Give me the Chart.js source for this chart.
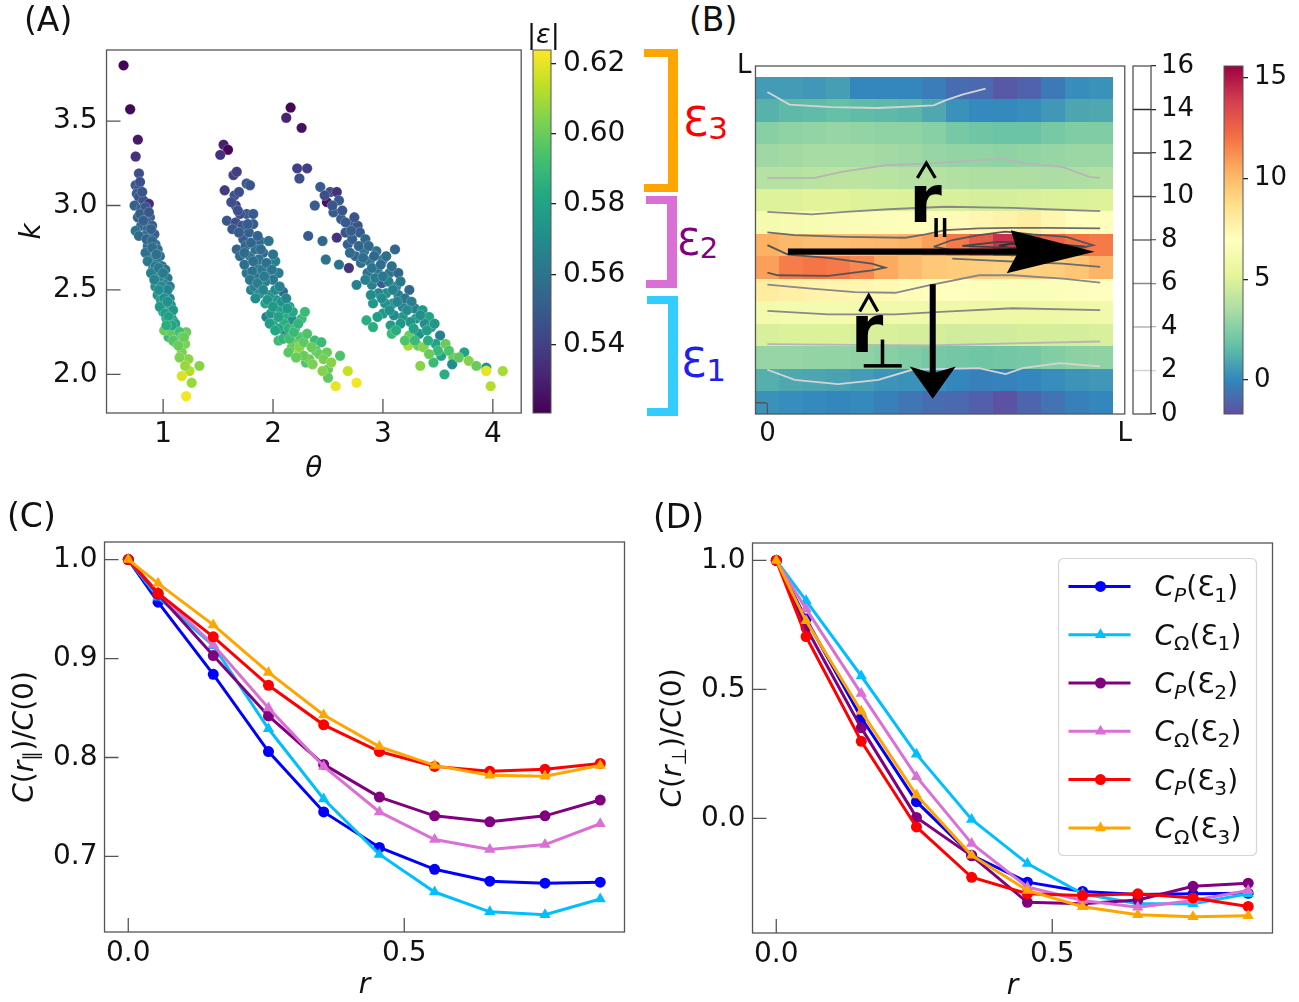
<!DOCTYPE html>
<html>
<head>
<meta charset="utf-8">
<script src="https://cdn.jsdelivr.net/npm/chart.js@4.4.1/dist/chart.umd.min.js"></script>
<style>
body { margin: 0; background: #fff; }
#fig { position: relative; width: 1299px; height: 1002px; overflow: hidden; font-family: "DejaVu Sans"; color: #111; }
canvas { position: absolute; }
.lbl { position: absolute; line-height: 1; white-space: nowrap; }
.br { position: absolute; box-sizing: border-box; border-left: none !important; }
</style>
</head>
<body>
<div id="fig">
  <canvas id="cA"></canvas>
  <canvas id="cAbar"></canvas>
  <canvas id="cB"></canvas>
  <canvas id="cBlev"></canvas>
  <canvas id="cBbar"></canvas>
  <canvas id="cC"></canvas>
  <canvas id="cD"></canvas>

  <div class="lbl" style="left:24px;top:3px;font-size:33px">(A)</div>
  <div class="lbl" style="left:689px;top:3px;font-size:33px">(B)</div>
  <div class="lbl" style="left:7px;top:499px;font-size:33px">(C)</div>
  <div class="lbl" style="left:653px;top:500px;font-size:33px">(D)</div>
  <div class="lbl" style="left:527px;top:20px;font-size:27px">|<i>ε</i>|</div>

  <div class="br" style="left:644px;top:49px;width:34px;height:143px;border:8px solid #ffa500;border-right-width:10px;"></div>
  <div class="br" style="left:646px;top:196px;width:31px;height:92px;border:8px solid #da70d6;border-right-width:10px;"></div>
  <div class="br" style="left:647px;top:296px;width:31px;height:120px;border:8px solid #33ccff;border-right-width:10px;"></div>
  <div class="lbl" style="left:683px;top:102px;color:#ff0000;font-size:41px">Ɛ<span style="font-size:31px;position:relative;top:3px">3</span></div>
  <div class="lbl" style="left:677px;top:224px;color:#800080;font-size:37px">Ɛ<span style="font-size:29px;position:relative;top:3px">2</span></div>
  <div class="lbl" style="left:681px;top:343px;color:#2020ee;font-size:41px">Ɛ<span style="font-size:31px;position:relative;top:4px">1</span></div>
</div>

<script>
Chart.defaults.font.family = '"DejaVu Sans"';
Chart.defaults.color = '#111';
Chart.defaults.animation = false;

// ---- panel A: scatter (theta, k) coloured by |eps|
const thetaVals = [
  0.64,0.70,0.77,0.75,0.78,0.75,0.78,0.76,0.78,0.82, 0.74,0.87,0.80,0.83,0.77,0.88,0.85,0.80,0.90,0.86,
  0.75,0.83,0.92,0.87,0.86,0.93,0.95,0.89,0.92,0.97, 0.88,0.95,0.99,0.91,0.97,1.02,0.94,1.00,1.04,0.97,
  1.02,0.93,1.06,0.99,0.95,1.03,0.98,1.06,1.01,1.07, 1.04,1.00,1.07,1.03,1.09,1.06,1.10,1.07,1.12,1.05,
  1.13,1.01,1.08,1.21,1.11,1.20,1.17,1.23,1.33,1.24, 1.17,1.26,1.21,
  0.79,0.81,0.84,0.79,0.87,0.82,0.89,0.78,0.85,0.90, 0.84,0.90,0.94,0.86,0.93,0.89,0.96,1.00,0.92,0.98,
  1.04,0.96,1.01,0.97,1.04,1.09,1.02,1.05,1.11,1.08, 1.03,1.15,1.17,1.09,1.14,1.19,1.15,1.20,
  1.55,1.59,1.52,1.64,1.67,1.76,1.56,1.65,1.66,1.69, 1.79,1.58,1.66,1.76,1.82,1.82,1.70,1.73,1.67,1.79,
  1.76,1.80,1.85,1.88,1.85,1.91,1.96,1.83,1.96,2.02, 2.05,2.09,1.93,2.00,2.03,2.15,2.12,2.00,1.94,2.18,
  2.26,2.29,2.18,2.05,2.11,2.21,2.17,2.24,2.24,2.30, 2.33,2.38,2.39,2.44,2.42,2.49,2.61,2.50,2.50,2.68,
  2.57,2.76,1.72,1.78,1.70,1.75,1.84,1.87,1.90,1.93, 1.88,1.97,2.02,2.07,2.10,2.05,2.14,2.20,2.25,1.98,
  2.08,2.12,1.74,1.81,1.94,
  1.62,1.68,1.63,1.69,1.77,1.74,1.80,1.86,1.82,1.89, 1.79,1.86,1.92,1.99,2.00,1.84,1.91,1.95,2.06,2.00,
  2.05,2.13,2.09,2.15,2.19,2.23,2.28,2.31,2.35,2.28, 2.36,2.46,2.53,2.45,2.14,2.21,1.97,2.02,
  2.16,2.12,2.26,2.22,2.31,2.24,2.43,2.52,2.58,2.49, 2.38,2.60,2.55,2.32,2.45,2.48,2.58,2.70,2.77,2.79,
  2.68,2.75,2.69,2.60,2.83,2.94,3.11,2.76,2.86,2.90, 2.99,3.06,3.12,3.24,3.03,2.91,2.85,2.91,3.00,3.09,
  3.18,3.29,3.18,3.36,3.42,3.07,3.08,3.24,3.33,3.52, 3.23,3.32,3.37,3.48,3.57,3.53,3.64,3.63,3.74,3.78,
  3.46,3.34,3.56,3.94,3.94,4.09,3.98,2.62,2.66,2.72, 2.84,2.80,2.88,2.95,2.96,3.00,3.05,3.14,3.10,3.20,
  3.26,3.30,3.38,3.44,3.14,2.92,2.84,3.02,2.70,
  2.47,2.54,2.63,2.66,2.74,2.71,2.78,2.87,2.82,2.90, 2.98,3.03,2.93,3.00,3.08,3.09,3.16,2.99,3.06,3.13,
  3.22,3.16,3.25,3.34,3.40,3.47,3.28,3.12,3.20,3.29, 3.41,3.50,3.42,3.60,3.69,3.85,2.95,2.89
];
const kVals = [
  3.83,3.57,3.39,3.29,3.19,3.12,3.10,3.07,3.05,3.03, 3.00,3.01,2.98,2.95,2.93,2.93,2.90,2.88,2.88,2.86,
  2.85,2.82,2.83,2.78,2.76,2.77,2.74,2.73,2.70,2.70, 2.68,2.66,2.64,2.63,2.61,2.62,2.58,2.57,2.57,2.55,
  2.53,2.52,2.52,2.50,2.47,2.47,2.44,2.45,2.41,2.41, 2.38,2.37,2.35,2.33,2.32,2.30,2.28,2.26,2.22,2.22,
  2.26,2.26,2.25,2.25,2.19,2.18,2.13,2.09,2.05,2.02, 1.99,1.95,1.87,
  3.14,3.08,2.99,2.95,2.96,2.91,2.86,2.82,2.80,2.79, 2.72,2.75,2.71,2.67,2.64,2.60,2.63,2.60,2.56,2.52,
  2.50,2.50,2.45,2.40,2.43,2.38,2.36,2.34,2.30,2.29, 2.29,2.25,2.22,2.20,2.17,2.22,2.10,2.05,
  3.36,3.33,3.30,3.18,3.20,3.13,3.09,3.06,3.00,3.08, 3.12,2.91,2.90,2.95,2.89,2.95,2.95,2.80,2.74,2.70,
  2.60,2.50,2.58,2.79,2.64,2.72,2.60,2.52,2.79,2.67, 2.60,2.49,2.42,2.56,2.44,2.40,2.34,2.30,2.34,2.32,
  2.33,2.37,2.37,2.20,2.25,2.21,2.16,2.13,2.16,2.07, 2.09,2.20,2.14,2.19,2.12,2.13,2.11,2.03,1.98,2.02,
  1.93,1.95,2.88,2.84,2.70,2.76,2.74,2.68,2.62,2.55, 2.48,2.47,2.50,2.38,2.30,2.27,2.27,2.27,2.22,2.36,
  2.43,2.45,2.65,2.61,2.66,
  3.02,2.97,2.86,2.84,2.89,2.72,2.78,2.82,2.67,2.74, 2.56,2.54,2.58,2.62,2.71,2.45,2.50,2.44,2.52,2.40,
  2.34,2.39,2.21,2.21,2.25,2.30,2.19,2.24,2.16,2.11, 2.06,2.09,2.07,2.02,2.13,2.10,2.30,2.26,
  3.58,3.52,3.46,3.22,3.22,3.16,3.11,3.08,3.08,3.02, 3.00,3.03,2.96,2.82,2.79,2.68,2.81,2.89,2.88,2.84,
  2.77,2.70,2.63,2.65,2.73,2.73,2.74,2.53,2.60,2.53, 2.54,2.60,2.52,2.50,2.48,2.42,2.32,2.28,2.36,2.42,
  2.40,2.39,2.34,2.38,2.34,2.29,2.24,2.23,2.24,2.23, 2.17,2.17,2.16,2.18,2.18,2.11,2.10,2.06,2.13,2.08,
  2.07,2.05,2.00,2.04,2.02,2.02,1.93,2.92,2.84,2.80, 2.80,2.66,2.67,2.62,2.48,2.68,2.55,2.47,2.35,2.45,
  2.43,2.33,2.30,2.28,2.60,2.70,2.56,2.42,2.72,
  3.06,3.00,2.97,2.90,2.93,2.85,2.76,2.76,2.69,2.63, 2.65,2.70,2.57,2.58,2.64,2.50,2.55,2.45,2.38,2.43,
  2.38,2.30,2.31,2.35,2.26,2.30,2.27,2.26,2.20,2.20, 2.20,2.14,2.12,2.14,2.10,2.05,2.34,2.47
];
const epsVals = [
  .522,.523,.527,.535,.545,.548,.546,.550,.547,.548, .552,.533,.550,.549,.552,.553,.548,.553,.550,.555,
  .560,.556,.552,.543,.556,.556,.558,.560,.561,.557, .563,.562,.560,.563,.565,.560,.565,.565,.562,.567,
  .567,.568,.563,.570,.572,.571,.575,.568,.577,.570, .578,.580,.575,.580,.577,.580,.578,.583,.585,.590,
  .590,.600,.598,.600,.595,.603,.603,.606,.605,.612, .618,.608,.622,
  .546,.548,.549,.551,.549,.552,.553,.556,.554,.556, .559,.557,.559,.562,.562,.565,.562,.563,.566,.568,
  .567,.570,.572,.576,.572,.575,.578,.579,.580,.582, .585,.592,.598,.596,.600,.600,.604,.608,
  .530,.522,.535,.540,.540,.550,.538,.545,.540,.545, .548,.548,.545,.550,.550,.550,.545,.550,.555,.560,
  .560,.565,.560,.555,.560,.555,.560,.565,.560,.565, .563,.555,.580,.562,.575,.580,.585,.580,.565,.570,
  .590,.590,.583,.590,.555,.600,.600,.605,.605,.595, .600,.590,.595,.590,.600,.600,.595,.600,.598,.615,
  .620,.622,.548,.552,.556,.555,.558,.560,.563,.566, .570,.572,.570,.578,.585,.580,.587,.590,.595,.575,
  .572,.568,.558,.560,.558,
  .545,.546,.549,.550,.550,.556,.554,.554,.558,.557, .562,.564,.563,.562,.560,.570,.568,.573,.566,.576,
  .580,.576,.588,.592,.590,.588,.598,.595,.600,.600, .603,.602,.605,.605,.597,.600,.578,.582,
  .522,.530,.525,.540,.540,.545,.550,.545,.535,.525, .550,.550,.550,.550,.555,.560,.535,.550,.548,.550,
  .552,.555,.535,.560,.560,.560,.555,.565,.560,.565, .550,.560,.565,.555,.570,.575,.585,.585,.575,.570,
  .565,.565,.575,.575,.580,.578,.590,.600,.570,.565, .610,.600,.605,.580,.600,.580,.600,.570,.580,.605,
  .590,.605,.585,.572,.620,.610,.612,.550,.548,.552, .555,.558,.560,.560,.568,.558,.565,.565,.570,.560,
  .565,.575,.570,.575,.555,.555,.565,.572,.556,
  .545,.548,.548,.550,.548,.551,.555,.556,.557,.560, .558,.558,.563,.562,.558,.566,.562,.570,.572,.568,
  .570,.575,.575,.572,.578,.575,.580,.585,.595,.590, .585,.590,.600,.595,.598,.600,.578,.570
];
const thetaTicks = [1, 2, 3, 4];
const kTicks = [2.0, 2.5, 3.0, 3.5];
const epsTicks = [0.54, 0.56, 0.58, 0.60, 0.62];
const EPS_MIN = 0.5206, EPS_MAX = 0.6238;

// ---- panel B: 15x15 map, rows listed top to bottom
const heatRows = [
  [0.6, 0.6, 0.5, 0.7, 0.0, 0.0, 0.0, -0.3, -0.8, -0.9, -1.4, -1.1, -0.4, 0.2, 0.3],
  [1.3, 1.5, 1.6, 1.7, 1.6, 1.5, 1.4, 1.0, 0.3, 0.1, 0.1, 0.2, 0.5, 0.9, 1.0],
  [2.6, 2.8, 2.9, 3.0, 2.9, 2.8, 2.8, 2.6, 2.2, 2.0, 1.9, 1.9, 2.2, 2.4, 2.4],
  [3.2, 3.3, 3.4, 3.4, 3.4, 3.3, 3.2, 3.0, 2.9, 2.9, 2.8, 2.9, 3.0, 3.1, 3.1],
  [3.8, 3.8, 3.9, 4.0, 4.0, 3.9, 3.8, 3.8, 3.7, 3.6, 3.6, 3.6, 3.5, 3.6, 3.7],
  [5.0, 5.0, 5.1, 5.1, 5.0, 5.0, 4.9, 4.8, 4.8, 4.7, 4.7, 4.8, 4.9, 4.9, 5.0],
  [6.2, 6.3, 6.4, 6.5, 6.6, 6.7, 6.8, 7.0, 7.2, 7.4, 7.6, 7.9, 7.4, 7.0, 6.8],
  [10.3, 10.0, 9.8, 9.8, 9.9, 10.0, 10.2, 10.8, 11.8, 12.8, 14.2, 13.5, 12.5, 12.0, 11.8],
  [10.8, 11.7, 11.9, 11.8, 11.4, 10.5, 9.9, 9.5, 9.4, 9.3, 9.2, 9.2, 9.3, 9.6, 10.2],
  [8.0, 7.8, 7.6, 7.5, 7.4, 7.3, 7.1, 7.0, 6.9, 6.8, 6.7, 6.7, 6.7, 6.8, 6.9],
  [6.1, 6.2, 6.2, 6.2, 6.1, 6.0, 6.0, 5.9, 5.9, 5.8, 5.8, 5.8, 5.8, 5.9, 6.0],
  [4.8, 4.9, 4.9, 4.9, 4.8, 4.8, 4.7, 4.7, 4.6, 4.6, 4.6, 4.7, 4.7, 4.7, 4.8],
  [3.0, 3.0, 2.9, 2.9, 2.8, 2.6, 2.4, 2.2, 2.1, 2.0, 2.1, 2.2, 2.5, 2.7, 2.8],
  [1.2, 1.0, 0.9, 0.8, 0.6, 0.4, 0.3, 0.2, 0.0, -0.2, -0.1, 0.0, 0.2, 0.4, 0.5],
  [0.3, 0.2, 0.1, 0.0, 0.1, -0.2, -0.5, -0.8, -0.9, -1.2, -1.6, -1.0, -0.6, -0.2, 0.0]
];
const HEAT_MIN = -1.68, HEAT_MAX = 15.57;
const heatTicks = [0, 5, 10, 15];
const levelTicks = [0, 2, 4, 6, 8, 10, 12, 14, 16];
const contours = [
  { level: 2,  xs: [0, 0.93, 2.69, 4.66, 6.98, 7.47, 8.18, 9.16], ys: [13.84, 13.28, 13.17, 13.13, 13.25, 13.47, 13.72, 13.99] },
  { level: 4,  xs: [0, 1.99, 3.12, 4.94, 6.91, 9.87, 10.85, 12.40, 13.52, 13.97], ys: [10.02, 10.02, 10.28, 10.58, 10.66, 10.88, 10.66, 10.50, 10.06, 10.02] },
  { level: 6,  xs: [0, 1.85, 3.26, 5.08, 7.47, 10.29, 11.70, 13.97], ys: [8.50, 8.39, 8.50, 8.62, 8.73, 8.68, 8.62, 8.54] },
  { level: 8,  xs: [0, 1.15, 3.26, 5.79, 6.63, 7.47, 8.88, 10.29, 11.70, 13.97], ys: [7.59, 7.47, 7.39, 7.35, 7.50, 7.69, 7.77, 7.79, 7.79, 7.77] },
  { level: 10, xs: [6.98, 7.76, 8.88, 10.0, 11.13, 12.54, 13.67, 12.54, 10.29, 8.18, 6.98], ys: [6.95, 7.25, 7.47, 7.62, 7.50, 7.39, 7.02, 6.72, 6.57, 6.72, 6.95] },
  { level: 12, xs: [8.18, 9.72, 10.99, 13.39, 10.99, 8.18], ys: [6.99, 7.17, 7.17, 6.95, 6.87, 6.99] },
  { level: 14, xs: [9.72, 10.29, 10.71, 10.29, 9.72], ys: [6.99, 7.10, 6.99, 6.87, 6.99] },
  { level: 10, xs: [0, 0.86, 2.55, 4.38, 4.94, 4.38, 2.55, 0.44, 0.0], ys: [7.02, 6.60, 6.45, 6.20, 6.02, 5.90, 5.65, 5.68, 5.80] },
  { level: 8,  xs: [13.97, 12.40, 10.71, 9.00, 7.76], ys: [6.05, 6.20, 6.27, 6.35, 6.42] },
  { level: 6,  xs: [0, 1.85, 3.68, 5.37, 6.77, 8.88, 10.29, 12.40, 13.97], ys: [5.26, 5.08, 4.93, 4.90, 5.23, 5.68, 5.68, 5.53, 5.35] },
  { level: 6,  xs: [0, 2.55, 5.37, 7.47, 10.29, 13.97], ys: [4.09, 3.94, 3.94, 4.06, 4.21, 4.13] },
  { level: 4,  xs: [0, 3.68, 6.77, 10.29, 13.97], ys: [2.61, 2.58, 2.55, 2.65, 2.73] },
  { level: 2,  xs: [0, 1.15, 2.97, 4.66, 6.07, 8.88, 10.0, 10.71, 12.26, 13.97], ys: [1.47, 1.02, 0.83, 1.02, 1.47, 1.54, 1.28, 1.54, 1.77, 1.62] }
];
// arrows and their labels, in map units
const arrowPar = { y: 6.73, x0: 0.86, xHead: 10.13, x1: 13.73 };
const arrowPerp = { x: 6.94, y0: 5.28, yHead: 1.62, y1: 0.18 };
const labelPar = { x: 6.21, y: 8.05 };
const labelPerp = { x: 3.75, y: 2.28 };

// ---- panels C, D: correlation functions
const rVals = [0, 0.054, 0.154, 0.254, 0.354, 0.455, 0.555, 0.655, 0.755, 0.855];
const parP1 = [1.0, 0.957, 0.884, 0.806, 0.745, 0.709, 0.687, 0.675, 0.673, 0.674];
const parO1 = [1.0, 0.962, 0.913, 0.829, 0.758, 0.702, 0.664, 0.644, 0.641, 0.657];
const parP2 = [1.0, 0.965, 0.903, 0.842, 0.793, 0.760, 0.741, 0.735, 0.741, 0.757];
const parO2 = [1.0, 0.967, 0.914, 0.850, 0.791, 0.745, 0.717, 0.707, 0.712, 0.733];
const parP3 = [1.0, 0.966, 0.922, 0.873, 0.833, 0.806, 0.791, 0.786, 0.788, 0.794];
const parO3 = [1.0, 0.976, 0.934, 0.886, 0.843, 0.811, 0.792, 0.782, 0.781, 0.792];
const perpP1 = [1.0, 0.773, 0.390, 0.065, -0.143, -0.247, -0.283, -0.295, -0.292, -0.290];
const perpO1 = [1.0, 0.844, 0.552, 0.249, -0.004, -0.175, -0.292, -0.331, -0.331, -0.292];
const perpP2 = [1.0, 0.740, 0.351, 0.004, -0.145, -0.325, -0.331, -0.316, -0.263, -0.251];
const perpO2 = [1.0, 0.812, 0.484, 0.162, -0.097, -0.266, -0.318, -0.344, -0.318, -0.279];
const perpP3 = [1.0, 0.705, 0.299, -0.033, -0.228, -0.292, -0.299, -0.292, -0.308, -0.341];
const perpO3 = [1.0, 0.766, 0.415, 0.091, -0.143, -0.279, -0.342, -0.373, -0.381, -0.377];
const rTicks = [0, 0.5];
const parTicks = [0.7, 0.8, 0.9, 1.0];
const perpTicks = [0, 0.5, 1.0];
const seriesColors = ['#0000ff', '#00bfff', '#800080', '#da70d6', '#ff0000', '#ffa500'];
const seriesStyles = ['circle', 'triangle', 'circle', 'triangle', 'circle', 'triangle'];
const seriesSub = [['P', '1'], ['Ω', '1'], ['P', '2'], ['Ω', '2'], ['P', '3'], ['Ω', '3']];

// ---- colour maps
const VIRIDIS = ['#440154','#482475','#414487','#355f8d','#2a788e','#21918c','#22a884','#44bf70','#7ad151','#bddf26','#fde725'];
const SPECTRAL_R = ['#5e4fa2','#3288bd','#66c2a5','#abdda4','#e6f598','#ffffbf','#fee08b','#fdae61','#f46d43','#d53e4f','#9e0142'];
const LEVEL_GRAY = {2:'#d4d4d4', 4:'#b6b6b6', 6:'#888888', 8:'#6c6c6c', 10:'#555555', 12:'#444444', 14:'#2c2c2c'};

function hexRgb(c) { return [1, 3, 5].map(i => parseInt(c.slice(i, i + 2), 16)); }
function cmap(stops, t) {
  t = Math.max(0, Math.min(1, t));
  const n = stops.length - 1;
  const i = Math.min(n - 1, Math.floor(t * n));
  const f = t * n - i;
  const a = hexRgb(stops[i]), b = hexRgb(stops[i + 1]);
  return 'rgb(' + a.map((v, j) => Math.round(v + (b[j] - v) * f)).join(',') + ')';
}

// rich text: parts = [{t, it, sub}]
function richWidth(ctx, parts, size) {
  let w = 0;
  parts.forEach(p => {
    ctx.font = (p.it ? 'italic ' : '') + (p.sub ? size * 0.72 : size) + 'px "DejaVu Sans"';
    w += ctx.measureText(p.t).width;
  });
  return w;
}
function drawRich(ctx, parts, x, y, size) {
  let cx = x;
  parts.forEach(p => {
    ctx.font = (p.it ? 'italic ' : '') + (p.sub ? size * 0.72 : size) + 'px "DejaVu Sans"';
    ctx.fillText(p.t, cx, y + (p.sub ? size * 0.2 : 0));
    cx += ctx.measureText(p.t).width;
  });
}

function fixedTicks(list) { return s => { s.ticks = list.map(v => ({ value: v })); }; }

// frame and inward ticks like matplotlib
function frameTicks(len, color) {
  return {
    id: 'frameTicks',
    afterDraw(chart) {
      const { ctx, chartArea: a, scales: { x, y } } = chart;
      ctx.save();
      ctx.strokeStyle = color; ctx.lineWidth = 1.3;
      ctx.strokeRect(a.left, a.top, a.width, a.height);
      ctx.beginPath();
      x.ticks.forEach(t => {
        const p = x.getPixelForValue(t.value);
        if (p > a.left + 1 && p < a.right - 1) { ctx.moveTo(p, a.bottom); ctx.lineTo(p, a.bottom - len); }
      });
      y.ticks.forEach(t => {
        const p = y.getPixelForValue(t.value);
        if (p > a.top + 1 && p < a.bottom - 1) { ctx.moveTo(a.left, p); ctx.lineTo(a.left + len, p); }
      });
      ctx.stroke();
      ctx.restore();
    }
  };
}

function axisTitles(xParts, xDy, yParts, yDx, size) {
  return {
    id: 'axisTitles',
    afterDraw(chart) {
      const { ctx, chartArea: a } = chart;
      ctx.save();
      ctx.fillStyle = '#111'; ctx.textBaseline = 'alphabetic';
      let w = richWidth(ctx, xParts, size);
      drawRich(ctx, xParts, (a.left + a.right) / 2 - w / 2, a.bottom + xDy, size);
      ctx.translate(a.left - yDx, (a.top + a.bottom) / 2);
      ctx.rotate(-Math.PI / 2);
      w = richWidth(ctx, yParts, size);
      drawRich(ctx, yParts, -w / 2, 0, size);
      ctx.restore();
    }
  };
}

// create, measure the plot area, then resize and move so the plot area lands on target
function place(id, build, area) {
  const cv = document.getElementById(id);
  cv.width = area.w + 300; cv.height = area.h + 300;
  cv.style.width = cv.width + 'px'; cv.style.height = cv.height + 'px';
  let ch = new Chart(cv, build());
  const a = ch.chartArea;
  const ml = a.left, mt = a.top, mr = cv.width - a.right, mb = cv.height - a.bottom;
  ch.destroy();
  const W = Math.round(area.w + ml + mr), H = Math.round(area.h + mt + mb);
  cv.width = W; cv.height = H;
  cv.style.width = W + 'px'; cv.style.height = H + 'px';
  cv.style.left = Math.round(area.x - ml) + 'px';
  cv.style.top = Math.round(area.y - mt) + 'px';
  return new Chart(cv, build());
}

const baseOpts = () => ({
  responsive: false, maintainAspectRatio: false, animation: false,
  plugins: { legend: { display: false }, tooltip: { enabled: false } }
});
const noGrid = { display: false, drawTicks: false };
function tickFont(size) { return { size: size, lineHeight: 1.0 }; }

// ---- A
place('cA', () => ({
  type: 'scatter',
  data: { datasets: [{
    data: thetaVals.map((t, i) => ({ x: t, y: kVals[i] })),
    pointRadius: 5.2, pointBorderWidth: 0.6, pointBorderColor: 'rgba(255,255,255,0.35)',
    pointBackgroundColor: epsVals.map(e => cmap(VIRIDIS, (e - EPS_MIN) / (EPS_MAX - EPS_MIN)))
  }] },
  options: Object.assign(baseOpts(), {
    layout: { padding: { left: 40, bottom: 40, top: 4, right: 4 } },
    scales: {
      x: { type: 'linear', min: 0.485, max: 4.258, afterBuildTicks: fixedTicks(thetaTicks),
           ticks: { font: tickFont(28), padding: 8, callback: v => String(v) },
           grid: noGrid, border: { display: false } },
      y: { type: 'linear', min: 1.771, max: 3.921, afterBuildTicks: fixedTicks(kTicks),
           ticks: { font: tickFont(28), padding: 9, callback: v => v.toFixed(1) },
           grid: noGrid, border: { display: false } }
    }
  }),
  plugins: [frameTicks(14, '#555'), axisTitles([{ t: 'θ', it: 1 }], 64, [{ t: 'k', it: 1 }], 67, 28)]
}), { x: 107, y: 50, w: 415, h: 363 });

// colour bars
function barConfig(min, max, ticks, fmt, fontSize, pad, paint, tickColor) {
  return () => ({
    type: 'scatter',
    data: { datasets: [] },
    options: Object.assign(baseOpts(), {
      layout: { padding: { top: 14, bottom: 14, left: 2, right: 2 } },
      scales: {
        x: { display: false, min: 0, max: 1 },
        y: { position: 'right', min: min, max: max, afterBuildTicks: fixedTicks(ticks),
             afterFit: s => { s.width = 85; },
             ticks: { font: tickFont(fontSize), padding: pad, callback: fmt },
             grid: { drawOnChartArea: false, drawTicks: true, tickLength: 5, lineWidth: 1.3,
                     color: tickColor || '#222' },
             border: { display: false } }
      }
    }),
    plugins: [paint]
  });
}
function gradientPaint(stops, vmin, vmax) {
  return {
    id: 'gradPaint',
    beforeDatasetsDraw(chart) {
      const { ctx, chartArea: a, scales: { y } } = chart;
      ctx.save();
      for (let p = Math.floor(a.top); p < Math.ceil(a.bottom); p++) {
        const v = y.getValueForPixel(p + 0.5);
        ctx.fillStyle = cmap(stops, (v - vmin) / (vmax - vmin));
        ctx.fillRect(a.left, Math.max(p, a.top), a.width, 1);
      }
      ctx.strokeStyle = '#555'; ctx.lineWidth = 1;
      ctx.strokeRect(a.left, a.top, a.width, a.height);
      ctx.restore();
    }
  };
}
const levelPaint = {
  id: 'levelPaint',
  beforeDatasetsDraw(chart) {
    const { ctx, chartArea: a, scales: { y } } = chart;
    ctx.save();
    ctx.fillStyle = '#fff'; ctx.fillRect(a.left, a.top, a.width, a.height);
    ctx.lineWidth = 1.5;
    levelTicks.forEach(v => {
      if (!LEVEL_GRAY[v]) return;
      const p = y.getPixelForValue(v);
      ctx.strokeStyle = LEVEL_GRAY[v];
      ctx.beginPath(); ctx.moveTo(a.left, p); ctx.lineTo(a.right, p); ctx.stroke();
    });
    ctx.strokeStyle = '#444'; ctx.lineWidth = 1.2;
    ctx.strokeRect(a.left, a.top, a.width, a.height);
    ctx.restore();
  }
};

place('cAbar', barConfig(EPS_MIN, EPS_MAX, epsTicks, v => v.toFixed(2), 28, 7,
  gradientPaint(VIRIDIS, EPS_MIN, EPS_MAX)), { x: 533, y: 50, w: 18, h: 363 });
place('cBlev', barConfig(0, 16, levelTicks, v => String(v), 26, 5, levelPaint,
  c => LEVEL_GRAY[c.tick.value] || '#333'), { x: 1133, y: 66, w: 18, h: 348 });
place('cBbar', barConfig(HEAT_MIN, HEAT_MAX, heatTicks, v => String(v), 26, 6,
  gradientPaint(SPECTRAL_R, HEAT_MIN, HEAT_MAX)), { x: 1224, y: 66, w: 19, h: 348 });

// ---- B
const heatPlugin = {
  id: 'heat',
  beforeDatasetsDraw(chart) {
    const { ctx, scales: { x, y } } = chart;
    ctx.save();
    const n = heatRows.length;
    heatRows.forEach((row, ri) => {
      const yv = n - 1 - ri;
      row.forEach((v, ci) => {
        const x0 = x.getPixelForValue(ci - 0.5), x1 = x.getPixelForValue(ci + 0.5);
        const y0 = y.getPixelForValue(yv + 0.5), y1 = y.getPixelForValue(yv - 0.5);
        ctx.fillStyle = cmap(SPECTRAL_R, (v - HEAT_MIN) / (HEAT_MAX - HEAT_MIN));
        ctx.fillRect(Math.floor(x0), Math.floor(y0), Math.ceil(x1) - Math.floor(x0), Math.ceil(y1) - Math.floor(y0));
      });
    });
    ctx.restore();
  }
};
const arrowPlugin = {
  id: 'arrows',
  afterDatasetsDraw(chart) {
    const { ctx, scales: { x, y } } = chart;
    const px = v => x.getPixelForValue(v), py = v => y.getPixelForValue(v);
    ctx.save();
    ctx.fillStyle = '#000'; ctx.strokeStyle = '#000';
    // along r_par
    const yc = py(arrowPar.y), x0 = px(arrowPar.x0), xb = px(arrowPar.xHead), xt = px(arrowPar.x1);
    ctx.beginPath();
    ctx.moveTo(x0, yc - 3.2); ctx.lineTo(xb + 8, yc - 3.2); ctx.lineTo(xb + 2, yc - 21.5);
    ctx.lineTo(xt, yc); ctx.lineTo(xb - 2, yc + 21.5); ctx.lineTo(xb + 8, yc + 3.2); ctx.lineTo(x0, yc + 3.2);
    ctx.closePath(); ctx.fill();
    // along r_perp
    const xc = px(arrowPerp.x), y0 = py(arrowPerp.y0), yb = py(arrowPerp.yHead), yt = py(arrowPerp.y1);
    ctx.beginPath();
    ctx.moveTo(xc - 3, y0); ctx.lineTo(xc - 3, yb + 6); ctx.lineTo(xc - 23, yb);
    ctx.lineTo(xc, yt); ctx.lineTo(xc + 23, yb); ctx.lineTo(xc + 3, yb + 6); ctx.lineTo(xc + 3, y0);
    ctx.closePath(); ctx.fill();
    // hat-r labels
    ctx.font = 'bold 66px "DejaVu Sans"';
    ctx.textBaseline = 'alphabetic';
    ctx.lineWidth = 3.2; ctx.lineJoin = 'miter';
    let lx = px(labelPar.x), ly = py(labelPar.y);
    ctx.fillText('r', lx - 6, ly);
    ctx.beginPath(); ctx.moveTo(lx + 2, ly - 44); ctx.lineTo(lx + 11, ly - 59); ctx.lineTo(lx + 20, ly - 44); ctx.stroke();
    ctx.fillRect(lx + 19, ly - 4, 3.5, 19); ctx.fillRect(lx + 27.5, ly - 4, 3.5, 19);
    lx = px(labelPerp.x); ly = py(labelPerp.y);
    ctx.fillText('r', lx - 6, ly);
    ctx.beginPath(); ctx.moveTo(lx + 3, ly - 40); ctx.lineTo(lx + 12, ly - 56); ctx.lineTo(lx + 21, ly - 40); ctx.stroke();
    ctx.fillRect(lx + 24, ly - 12, 3.5, 27); ctx.fillRect(lx + 7, ly + 12.5, 38, 3.5);
    ctx.restore();
  }
};
place('cB', () => ({
  type: 'scatter',
  data: { datasets: contours.map(c => ({
    data: c.xs.map((xv, i) => ({ x: xv, y: c.ys[i] })),
    showLine: true, pointRadius: 0, borderWidth: 1.8, borderColor: LEVEL_GRAY[c.level], tension: 0
  })) },
  options: Object.assign(baseOpts(), {
    layout: { padding: { left: 4, bottom: 4, top: 4, right: 4 } },
    scales: {
      x: { type: 'linear', min: -0.5, max: 15, afterBuildTicks: fixedTicks([0, 15]),
           ticks: { font: tickFont(26), padding: 7, callback: v => (v === 15 ? 'L' : '0') },
           grid: noGrid, border: { display: false } },
      y: { type: 'linear', min: -0.5, max: 15, afterBuildTicks: fixedTicks([0, 15]),
           ticks: { font: tickFont(26), padding: 4, callback: v => (v === 15 ? 'L' : '') },
           grid: noGrid, border: { display: false } }
    }
  }),
  plugins: [heatPlugin, arrowPlugin, frameTicks(11, '#555')]
}), { x: 755, y: 66, w: 369, h: 348 });

// ---- C and D
function legendPlugin() {
  return {
    id: 'richLegend',
    afterDraw(chart) {
      const { ctx, chartArea: a } = chart;
      const bx = a.right - 214, by = a.top + 15.5, bw = 198, bh = 297;
      ctx.save();
      ctx.beginPath();
      ctx.roundRect(bx, by, bw, bh, 5);
      ctx.fillStyle = 'rgba(255,255,255,0.85)'; ctx.fill();
      ctx.strokeStyle = '#d6d6d6'; ctx.lineWidth = 1.2; ctx.stroke();
      chart.data.datasets.forEach((ds, i) => {
        const yy = a.top + 43.4 + i * 48.3;
        ctx.strokeStyle = ds.borderColor; ctx.lineWidth = 3;
        ctx.beginPath(); ctx.moveTo(bx + 10, yy); ctx.lineTo(bx + 72, yy); ctx.stroke();
        ctx.fillStyle = ds.borderColor;
        ctx.beginPath();
        if (ds.pointStyle === 'circle') ctx.arc(bx + 42, yy, 5.5, 0, Math.PI * 2);
        else { ctx.moveTo(bx + 42, yy - 6.5); ctx.lineTo(bx + 47.6, yy + 3.3); ctx.lineTo(bx + 36.4, yy + 3.3); ctx.closePath(); }
        ctx.fill();
        ctx.fillStyle = '#111';
        const sub = seriesSub[i];
        drawRich(ctx, [{ t: 'C', it: 1 }, { t: sub[0], it: sub[0] === 'P', sub: 1 }, { t: '(' },
          { t: 'Ɛ' }, { t: sub[1], sub: 1 }, { t: ')' }], bx + 96, yy + 10, 28);
      });
      ctx.restore();
    }
  };
}

function corrConfig(series, yMin, yMax, yTicks, sym, withLegend) {
  return () => ({
    type: 'scatter',
    data: { datasets: series.map((vals, i) => ({
      data: rVals.map((r, j) => ({ x: r, y: vals[j] })),
      showLine: true, borderColor: seriesColors[i], backgroundColor: seriesColors[i],
      borderWidth: 3, pointStyle: seriesStyles[i],
      pointRadius: seriesStyles[i] === 'circle' ? 5.5 : 6.5, pointBorderWidth: 0,
      order: series.length - i
    })) },
    options: Object.assign(baseOpts(), {
      layout: { padding: { left: 45, bottom: 40, top: 4, right: 4 } },
      scales: {
        x: { type: 'linear', min: -0.043, max: 0.899, afterBuildTicks: fixedTicks(rTicks),
             ticks: { font: tickFont(28), padding: 8, callback: v => v.toFixed(1) },
             grid: noGrid, border: { display: false } },
        y: { type: 'linear', min: yMin, max: yMax, afterBuildTicks: fixedTicks(yTicks),
             ticks: { font: tickFont(28), padding: 7, callback: v => v.toFixed(1) },
             grid: noGrid, border: { display: false } }
      }
    }),
    plugins: [frameTicks(14, '#555'),
      axisTitles([{ t: 'r', it: 1 }], 61,
        [{ t: 'C', it: 1 }, { t: '(' }, { t: 'r', it: 1 }, { t: sym, sub: 1 }, { t: ')/' }, { t: 'C', it: 1 }, { t: '(0)' }], 72, 28)]
      .concat(withLegend ? [legendPlugin()] : [])
  });
}

place('cC', corrConfig([parP1, parO1, parP2, parO2, parP3, parO3], 0.6236, 1.0178, parTicks, '∥', false),
  { x: 105, y: 542, w: 520, h: 390 });
place('cD', corrConfig([perpP1, perpO1, perpP2, perpO2, perpP3, perpO3], -0.444, 1.0675, perpTicks, '⊥', true),
  { x: 753, y: 543, w: 520, h: 390 });
</script>
</body>
</html>
